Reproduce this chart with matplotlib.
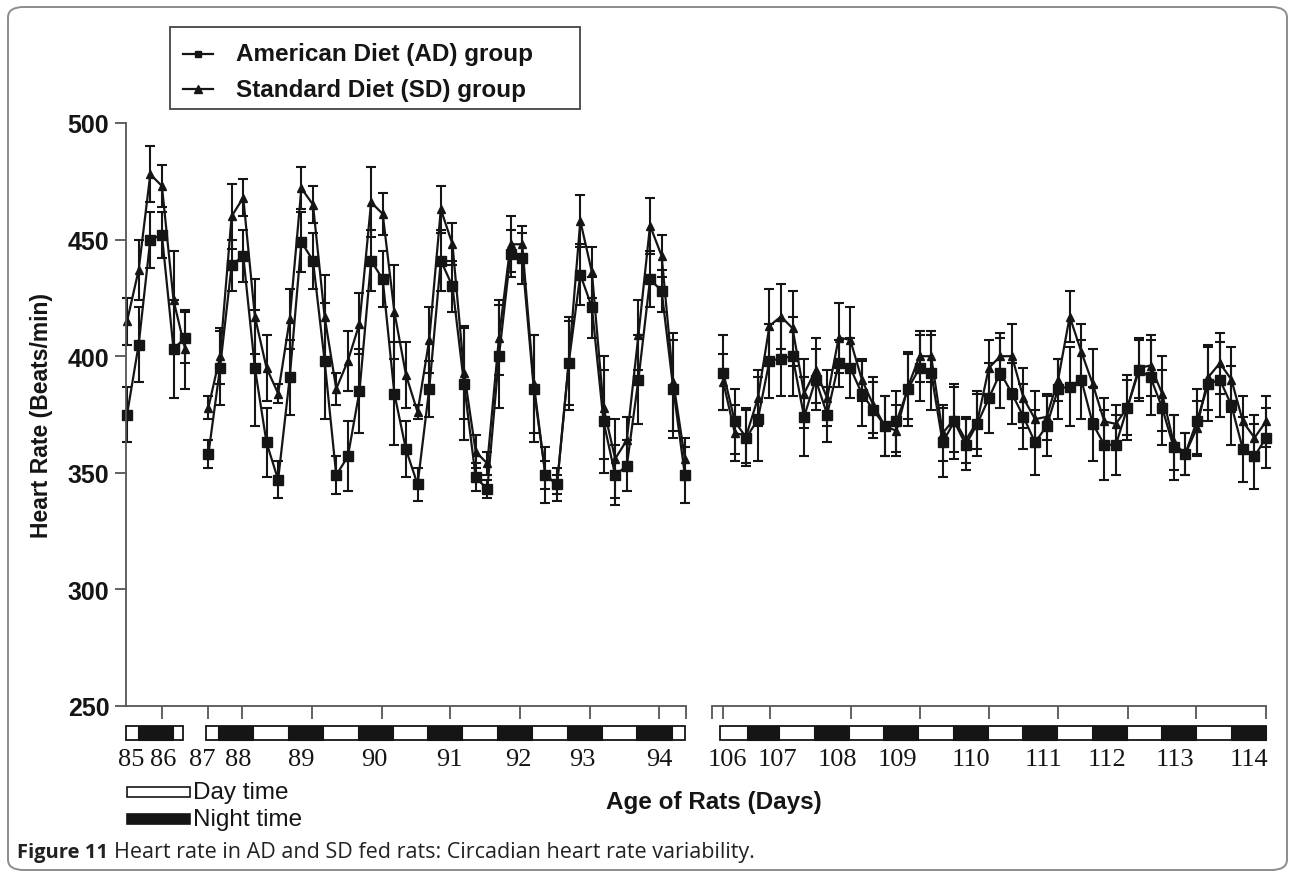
import numpy as np
import matplotlib.pyplot as plt
import matplotlib.transforms as mtransforms
from matplotlib.patches import Rectangle, FancyBboxPatch
from matplotlib.lines import Line2D

# heart rate (beats/min), one reading every 4 h, mean and SEM
# days 85-86
ad_a = [375, 405, 450, 452, 403, 408]
ad_a_err = [12, 16, 12, 10, 21, 11]
sd_a = [415, 437, 478, 473, 424, 403]
sd_a_err = [10, 13, 12, 9, 21, 17]

# days 87-94
ad_b = [358, 395, 439, 443, 395, 363, 347, 391, 449, 441, 398, 349, 357, 385,
        441, 433, 384, 360, 345, 386, 441, 430, 388, 348, 343, 400, 444, 442,
        386, 349, 345, 397, 435, 421, 372, 349, 353, 390, 433, 428, 386, 349]
ad_b_err = [6, 16, 11, 11, 25, 15, 8, 16, 13, 12, 25, 8, 15, 18,
            13, 12, 22, 12, 7, 12, 13, 11, 24, 6, 4, 22, 10, 11,
            23, 12, 7, 18, 13, 13, 22, 13, 11, 19, 12, 9, 21, 12]
sd_b = [378, 400, 460, 468, 417, 395, 384, 416, 472, 465, 417, 386, 398, 414,
        466, 461, 419, 392, 376, 407, 463, 448, 393, 359, 354, 408, 448, 448,
        388, 349, 345, 397, 458, 436, 378, 356, 364, 409, 456, 443, 389, 356]
sd_b_err = [5, 12, 14, 8, 16, 14, 4, 13, 9, 8, 18, 7, 13, 13,
            15, 9, 20, 14, 3, 14, 10, 9, 20, 7, 5, 16, 12, 8,
            21, 6, 4, 20, 11, 11, 22, 17, 10, 15, 12, 9, 21, 9]

# days 106-114
ad_c = [393, 372, 365, 373, 398, 399, 400, 374, 390, 375, 397, 395, 384, 377,
        370, 372, 386, 395, 393, 363, 372, 362, 371, 382, 393, 384, 374, 363,
        370, 386, 387, 390, 371, 362, 362, 378, 394, 391, 378, 361, 358, 372,
        388, 390, 379, 360, 357, 365]
ad_c_err = [16, 14, 12, 18, 16, 16, 17, 17, 13, 12, 10, 13, 14, 12,
            13, 13, 16, 14, 16, 15, 16, 11, 14, 15, 15, 13, 14, 14,
            13, 13, 17, 17, 16, 15, 13, 14, 13, 16, 16, 14, 9, 14,
            16, 16, 17, 14, 14, 13]
sd_c = [389, 367, 366, 382, 413, 417, 412, 384, 394, 382, 408, 407, 390, 379,
        370, 368, 387, 400, 400, 367, 373, 364, 372, 395, 400, 400, 382, 373,
        374, 390, 417, 402, 388, 372, 371, 378, 395, 396, 384, 363, 358, 369,
        391, 397, 390, 372, 365, 372]
sd_c_err = [12, 12, 12, 12, 16, 14, 16, 15, 14, 12, 15, 14, 9, 12,
            13, 11, 14, 11, 11, 12, 14, 10, 12, 12, 10, 14, 13, 12,
            10, 9, 11, 12, 15, 10, 8, 12, 13, 13, 16, 12, 9, 12,
            14, 13, 14, 11, 10, 11]

day_ticks_a = ['85', '86']
day_ticks_b = ['87', '88', '89', '90', '91', '92', '93', '94']
day_ticks_c = ['106', '107', '108', '109', '110', '111', '112', '113', '114']
series_names = ['American Diet (AD) group', 'Standard Diet (SD) group']

# x positions: one unit per 4 h reading, the three recording blocks side by side
x_a = np.arange(len(ad_a))
x_b = 7 + np.arange(len(ad_b))
x_c = np.linspace(51.3, 98.0, len(ad_c))

W, H = 1295, 879
fig = plt.figure(figsize=(W / 100, H / 100), dpi=100)
ax = fig.add_axes([126 / W, 1 - 707 / H, 1140 / W, 583 / H])
ax.set_xlim(-0.09, 98.0)
ax.set_ylim(250, 500)

ink = '#151515'
grey = '#555555'
for xs, ad, ad_e, sd, sd_e in [(x_a, ad_a, ad_a_err, sd_a, sd_a_err),
                               (x_b, ad_b, ad_b_err, sd_b, sd_b_err),
                               (x_c, ad_c, ad_c_err, sd_c, sd_c_err)]:
    ax.errorbar(xs, sd, yerr=sd_e, color=ink, lw=1.6, marker='^', ms=5.5,
                capsize=3.8, capthick=1.5, elinewidth=1.5, clip_on=False)
    ax.errorbar(xs, ad, yerr=ad_e, color=ink, lw=1.6, marker='s', ms=6.5,
                capsize=3.8, capthick=1.5, elinewidth=1.5, clip_on=False)

# axes styling
for s in ['top', 'right']:
    ax.spines[s].set_visible(False)
for s in ['left', 'bottom']:
    ax.spines[s].set_color(grey)
    ax.spines[s].set_linewidth(1.3)
ax.spines['bottom'].set_bounds(-0.09, 48.1)
ax.set_yticks([250, 300, 350, 400, 450, 500])
ax.tick_params(axis='y', length=8, width=1.3, color=grey, pad=4,
               labelsize=18)
for lab in ax.get_yticklabels():
    lab.set_fontweight('bold')
    lab.set_family('Liberation Sans')
    lab.set_color(ink)

tick_pos = [3, 7, 9.9, 15.9, 21.9, 27.8, 33.8, 39.8, 45.8, 48.1,
            50.3, 51.3, 55.3, 62.3, 68.2, 74.2, 80.1, 86.1, 92.0, 98.0]
ax.set_xticks(tick_pos)
ax.set_xticklabels([])
ax.tick_params(axis='x', length=9, width=1.3, color=grey)

blend = mtransforms.blended_transform_factory(ax.transData, ax.transAxes)
ax.plot([50.3, 98.0], [0, 0], color=grey, lw=1.3, transform=blend,
        clip_on=False)

# day / night bars under the axis
bar_y, bar_h = -0.0583, 0.024
for x0, x1 in [(-0.09, 4.82), (6.8, 48.0), (51.0, 98.0)]:
    ax.add_patch(Rectangle((x0, bar_y), x1 - x0, bar_h, transform=blend,
                           facecolor='white', edgecolor=ink, lw=1.3,
                           clip_on=False))
nights = [(0.95, 3.96)] + [(7.83 + 6 * k, 10.85 + 6 * k) for k in range(7)] \
    + [(53.36, 56.1)] + [(59.1 + 5.98 * k, 62.1 + 5.98 * k) for k in range(7)]
for x0, x1 in nights:
    ax.add_patch(Rectangle((x0, bar_y), x1 - x0, bar_h, transform=blend,
                           facecolor=ink, edgecolor=ink, lw=0.8,
                           clip_on=False))

# day labels
lab_pos = [0.35, 3.1, 6.5, 9.6, 15.0, 21.3, 27.7, 33.7, 39.2, 45.8,
           51.7, 56.0, 61.1, 66.3, 72.6, 78.9, 84.3, 90.2, 96.5]
for xp, t in zip(lab_pos, day_ticks_a + day_ticks_b + day_ticks_c):
    ax.text(xp, -0.091, t, transform=blend, ha='center', va='center',
            fontsize=19, family='Liberation Serif', color=ink)

ax.text(50.5, -0.163, 'Age of Rats (Days)', transform=blend, ha='center',
        va='center', fontsize=17.5, fontweight='bold',
        family='Liberation Sans', color=ink)
fig.text(42 / W, 1 - 415 / H, 'Heart Rate (Beats/min)', rotation=90,
         ha='center', va='center', fontsize=16.5, fontweight='bold',
         family='Liberation Sans', color=ink)

# day time / night time key
fig.patches.append(Rectangle((127 / W, 1 - 798 / H), 63 / W, 10 / H,
                             transform=fig.transFigure, facecolor='white',
                             edgecolor=ink, lw=1.2))
fig.patches.append(Rectangle((127 / W, 1 - 825 / H), 63 / W, 10 / H,
                             transform=fig.transFigure, facecolor=ink,
                             edgecolor=ink, lw=1.2))
fig.text(193 / W, 1 - 793 / H, 'Day time', ha='left', va='center',
         fontsize=17.5, family='Liberation Sans', color=ink)
fig.text(193 / W, 1 - 820 / H, 'Night time', ha='left', va='center',
         fontsize=17.5, family='Liberation Sans', color=ink)

# series key, drawn by hand to match the boxed legend
fig.patches.append(Rectangle((170 / W, 1 - 110 / H), 410 / W, 82 / H,
                             transform=fig.transFigure, facecolor='white',
                             edgecolor='#444444', lw=1.3))
for row, (name, mk, ms) in enumerate(zip(series_names, ['s', '^'], [5, 5.5])):
    yy = 1 - (55 + 35 * row) / H
    fig.add_artist(Line2D([183 / W, 213 / W], [yy, yy], color=ink, lw=1.6,
                          transform=fig.transFigure))
    fig.add_artist(Line2D([198 / W], [yy], color=ink, marker=mk, ms=ms,
                          transform=fig.transFigure))
    fig.text(236 / W, yy, name, ha='left', va='center', fontsize=17.5,
             fontweight='bold', family='Liberation Sans', color=ink)

# figure caption and outer frame
cap1 = fig.text(17 / W, 1 - 853 / H, 'Figure 11', ha='left', va='center',
                fontsize=14.5, fontweight='bold', family='Open Sans',
                color='#222222')
fig.canvas.draw()
bb = cap1.get_window_extent()
fig.text((bb.x1 + 6) / W, 1 - 853 / H,
         'Heart rate in AD and SD fed rats: Circadian heart rate variability.',
         ha='left', va='center', fontsize=15.5, family='Open Sans',
         color='#222222')
fig.patches.append(FancyBboxPatch((8 / W, 8 / H), 1279 / W, 863 / H,
                                  boxstyle='round,pad=0,rounding_size=0.012',
                                  transform=fig.transFigure, facecolor='none',
                                  edgecolor='#8c8c8c', lw=1.4))

fig.savefig('out.png', dpi=100)
